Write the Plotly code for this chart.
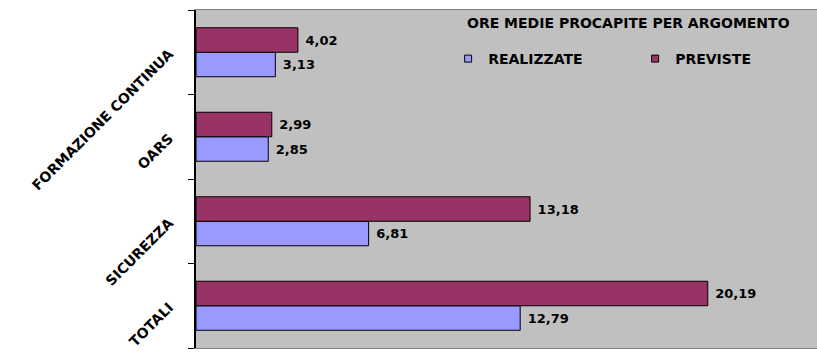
import plotly.graph_objects as go

# Categories listed bottom-to-top (Plotly puts the first category at the bottom)
categories = ["TOTALI", "SICUREZZA", "OARS", "FORMAZIONE CONTINUA"]
realizzate = [12.79, 6.81, 2.85, 3.13]
previste = [20.19, 13.18, 2.99, 4.02]

series_names = ["REALIZZATE", "PREVISTE"]
series_colors = ["#9999FF", "#993366"]
title_text = "ORE MEDIE PROCAPITE PER ARGOMENTO"

FONT = dict(family="DejaVu Sans", size=14, color="black", weight="bold")
VALUE_FONT = dict(family="DejaVu Sans", size=13, color="black", weight="bold")

fig = go.Figure()
for name, vals, col in zip(series_names, [realizzate, previste], series_colors):
    fig.add_trace(go.Bar(
        y=categories, x=vals, name=name, orientation="h",
        marker=dict(color=col, line=dict(color="black", width=1)),
        texttemplate=" %{x:.2f}", textposition="outside",
        textfont=VALUE_FONT, cliponaxis=False, showlegend=False,
    ))
    # small square swatches for the legend
    fig.add_trace(go.Scatter(
        x=[None], y=[None], mode="markers", name=name,
        marker=dict(symbol="square", size=7, color=col,
                    line=dict(color="black", width=1)),
    ))

fig.add_annotation(
    text=title_text, xref="paper", yref="paper", x=0.697, y=0.962,
    xanchor="center", yanchor="middle", showarrow=False, font=FONT,
)

fig.update_layout(
    width=817, height=356,
    margin=dict(l=196, r=0, t=10, b=8, autoexpand=False),
    paper_bgcolor="white", plot_bgcolor="#C0C0C0",
    barmode="group", bargap=0.42, bargroupgap=0,
    separators=",.",
    showlegend=True,
    legend=dict(
        orientation="h", x=0.406, y=0.855, xanchor="left", yanchor="middle",
        bgcolor="rgba(0,0,0,0)", font=FONT, traceorder="normal",
        entrywidth=142, entrywidthmode="pixels",
    ),
    xaxis=dict(
        range=[0, 24.5], showgrid=False, zeroline=False,
        showticklabels=False, ticks="",
        showline=True, mirror=True, linecolor="#808080", linewidth=1,
    ),
    yaxis=dict(
        showgrid=False, zeroline=False, tickangle=-45,
        ticks="outside", ticklen=6, tickcolor="black", tickson="boundaries",
        ticklabelstandoff=22,
        showline=True, linecolor="black", linewidth=2,
        tickfont=FONT,
    ),
)

fig.write_html("out.html")
